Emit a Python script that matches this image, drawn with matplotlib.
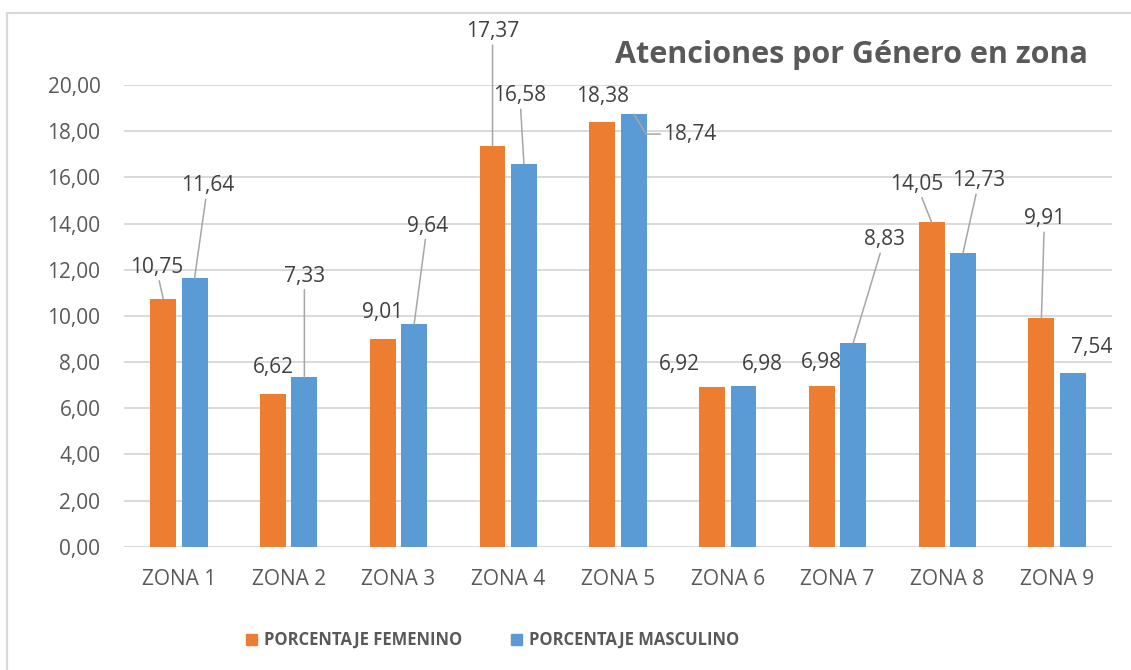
import matplotlib
matplotlib.use("Agg")
import matplotlib.pyplot as plt
from matplotlib.patches import Rectangle
import numpy as np

# ---- data ----
zonas = ["ZONA 1", "ZONA 2", "ZONA 3", "ZONA 4", "ZONA 5", "ZONA 6", "ZONA 7", "ZONA 8", "ZONA 9"]
femenino = [10.75, 6.62, 9.01, 17.37, 18.38, 6.92, 6.98, 14.05, 9.91]
masculino = [11.64, 7.33, 9.64, 16.58, 18.74, 6.98, 8.83, 12.73, 7.54]
yticks = [0, 2, 4, 6, 8, 10, 12, 14, 16, 18, 20]
title = "Atenciones por Género en zona"
legend_labels = ["PORCENTAJE FEMENINO", "PORCENTAJE MASCULINO"]

# ---- label placement (pixel offsets from bar top) and leader flags ----
fem_off = [(-7, 31), (0, 26), (0, 26), (0, 114), (0, 26), (-33, 22), (0, 23), (-15, 38), (3, 99)]
fem_leader = [True, False, False, True, False, False, False, True, True]
mas_off = [(13, 92), (0, 101), (13, 98), (-4, 68), (56, -20), (19, 21), (31, 103), (16, 72), (19, 25)]
mas_leader = [True, True, True, True, "elbow", False, True, True, False]

ORANGE = "#ED7D31"
BLUE = "#5B9BD5"
GRID = "#D9D9D9"
TICK = "#595959"
LABEL = "#404040"
LEADER = "#A6A6A6"
FONT = "Open Sans"

plt.rcParams["font.family"] = [FONT, "DejaVu Sans"]

fig = plt.figure(figsize=(11.31, 6.70), dpi=100)
fig.patch.set_facecolor("white")

# outer frame
fig.add_artist(Rectangle((7 / 1131, -0.05), 1.2, 1 - 12.5 / 670 + 0.05,
                         transform=fig.transFigure, fill=False,
                         edgecolor=GRID, linewidth=1.6))

ax = fig.add_axes([124 / 1131, 1 - 546.7 / 670, (1112 - 124) / 1131, (546.7 - 85) / 670])

x = np.arange(len(zonas))
w = 0.236
off = 0.143
ax.bar(x - off, femenino, w, color=ORANGE, zorder=3, label=legend_labels[0])
ax.bar(x + off, masculino, w, color=BLUE, zorder=3, label=legend_labels[1])

ax.set_xlim(-0.5, len(zonas) - 0.5)
ax.set_ylim(0, 20)
ax.set_yticks(yticks)
ax.set_yticklabels([f"{v:.2f}".replace(".", ",") for v in yticks])
ax.set_xticks(x)
ax.set_xticklabels(zonas)
ax.tick_params(axis="y", length=0, pad=17, labelsize=15, labelcolor=TICK)
ax.tick_params(axis="x", length=0, pad=16, labelsize=15, labelcolor=TICK)
for s in ax.spines.values():
    s.set_visible(False)
ax.yaxis.grid(True, color=GRID, linewidth=1.4, zorder=0)
ax.set_axisbelow(True)


def fmt(v):
    return f"{v:.2f}".replace(".", ",")


def put_labels(xs, vals, offs, leaders):
    for xi, v, (dx, dy), ld in zip(xs, vals, offs, leaders):
        kw = dict(xy=(xi, v), xytext=(dx, dy), textcoords="offset pixels",
                  ha="center", va="center", fontsize=15, color=LABEL,
                  annotation_clip=False, zorder=5)
        if ld is True:
            kw["arrowprops"] = dict(arrowstyle="-", color=LEADER, lw=1.1,
                                    shrinkA=0, shrinkB=0)
        elif ld == "elbow":
            kw["arrowprops"] = dict(arrowstyle="-", color=LEADER, lw=1.1,
                                    shrinkA=0, shrinkB=0, relpos=(0, 0.5),
                                    connectionstyle="angle,angleA=0,angleB=-58,rad=0")
        ax.annotate(fmt(v), **kw)


put_labels(x - off, femenino, fem_off, fem_leader)
put_labels(x + off, masculino, mas_off, mas_leader)

fig.text(1088 / 1131, 1 - 63 / 670, title, ha="right", va="baseline",
         fontsize=22, fontweight="bold", color=TICK)

handles = [Rectangle((0, 0), 1, 1, color=ORANGE), Rectangle((0, 0), 1, 1, color=BLUE)]
leg = fig.legend(handles, legend_labels, loc="center left",
                 bbox_to_anchor=(246 / 1131, 1 - 640 / 670), ncol=2, frameon=False,
                 borderpad=0, borderaxespad=0, handlelength=0.65, handleheight=0.65,
                 handletextpad=0.45, columnspacing=2.9,
                 prop=dict(family=FONT, weight="bold", size=12))
for t in leg.get_texts():
    t.set_color(TICK)

fig.savefig("out.png", dpi=100, facecolor="white")
